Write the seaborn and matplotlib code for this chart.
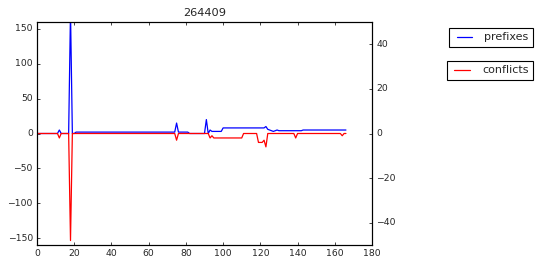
import matplotlib
matplotlib.use("Agg")
import matplotlib.pyplot as plt
import seaborn as sns
import numpy as np

# ---- data ----
x_index = list(range(167))

prefixes = [
    0, 0, 0, 0, 0, 0, 0, 0, 0, 0,          # 0-9
    0, 0, 5, 0, 0, 0, 0, 0, 175, 0,        # 10-19
    0, 2, 2, 2, 2, 2, 2, 2, 2, 2,          # 20-29
    2, 2, 2, 2, 2, 2, 2, 2, 2, 2,          # 30-39
    2, 2, 2, 2, 2, 2, 2, 2, 2, 2,          # 40-49
    2, 2, 2, 2, 2, 2, 2, 2, 2, 2,          # 50-59
    2, 2, 2, 2, 2, 2, 2, 2, 2, 2,          # 60-69
    2, 2, 2, 2, 2, 15, 2, 2, 2, 2,         # 70-79
    2, 2, 0, 0, 0, 0, 0, 0, 0, 0,          # 80-89
    0, 20, 0, 5, 3, 3, 3, 3, 3, 3,         # 90-99
    8, 8, 8, 8, 8, 8, 8, 8, 8, 8,          # 100-109
    8, 8, 8, 8, 8, 8, 8, 8, 8, 8,          # 110-119
    8, 8, 8, 10, 6, 5, 4, 3, 4, 5,         # 120-129
    4, 4, 4, 4, 4, 4, 4, 4, 4, 4,          # 130-139
    4, 4, 4, 5, 5, 5, 5, 5, 5, 5,          # 140-149
    5, 5, 5, 5, 5, 5, 5, 5, 5, 5,          # 150-159
    5, 5, 5, 5, 5, 5, 5,                   # 160-166
]

conflicts = [
    0, 0, 0, 0, 0, 0, 0, 0, 0, 0,          # 0-9
    0, 0, -2, 0, 0, 0, 0, 0, -48, 0,       # 10-19
    0, 0, 0, 0, 0, 0, 0, 0, 0, 0,          # 20-29
    0, 0, 0, 0, 0, 0, 0, 0, 0, 0,          # 30-39
    0, 0, 0, 0, 0, 0, 0, 0, 0, 0,          # 40-49
    0, 0, 0, 0, 0, 0, 0, 0, 0, 0,          # 50-59
    0, 0, 0, 0, 0, 0, 0, 0, 0, 0,          # 60-69
    0, 0, 0, 0, 0, -3, 0, 0, 0, 0,         # 70-79
    0, 0, 0, 0, 0, 0, 0, 0, 0, 0,          # 80-89
    0, 0, 0, -2, -1, -2, -2, -2, -2, -2,   # 90-99
    -2, -2, -2, -2, -2, -2, -2, -2, -2, -2,  # 100-109
    -2, 0, 0, 0, 0, 0, 0, 0, 0, -4,        # 110-119
    -4, -4, -3, -6, 0, 0, 0, 0, 0, 0,      # 120-129
    0, 0, 0, 0, 0, 0, 0, 0, 0, -2,         # 130-139
    0, 0, 0, 0, 0, 0, 0, 0, 0, 0,          # 140-149
    0, 0, 0, 0, 0, 0, 0, 0, 0, 0,          # 150-159
    0, 0, 0, 0, -1, 0, 0,                  # 160-166
]

title_text = "264409"
x_ticks = [0, 20, 40, 60, 80, 100, 120, 140, 160, 180]
left_ticks = [-150, -100, -50, 0, 50, 100, 150]
right_ticks = [-40, -20, 0, 20, 40]

# ---- styling ----
plt.style.use("classic")
sns.set_style("white", {"axes.edgecolor": "black"})
plt.rcParams.update({
    "font.family": ["DejaVu Sans"],
    "figure.facecolor": "white",
    "savefig.facecolor": "white",
    "axes.linewidth": 0.8,
    "xtick.direction": "in",
    "ytick.direction": "in",
    "xtick.major.size": 2.5,
    "ytick.major.size": 2.5,
    "xtick.major.width": 0.6,
    "ytick.major.width": 0.6,
})

fig = plt.figure(figsize=(5.4, 2.66), dpi=100)
ax = fig.add_axes([37 / 540, 21 / 266, (372 - 37) / 540, (245 - 22) / 266])
ax2 = ax.twinx()

sns.lineplot(x=x_index, y=prefixes, ax=ax, color="blue", linewidth=0.9,
             sort=False, estimator=None, legend=False)
sns.lineplot(x=x_index, y=conflicts, ax=ax2, color="red", linewidth=0.9,
             sort=False, estimator=None, legend=False)

ax.set_xlim(0, 180)
ax.set_ylim(-160, 160)
ax2.set_ylim(-50, 50)
ax.set_xticks(x_ticks)
ax.set_yticks(left_ticks)
ax2.set_yticks(right_ticks)
for a in (ax, ax2):
    a.tick_params(labelsize=6.7, direction="in", length=2.5, width=0.6, pad=3)
    a.set_xlabel("")
    a.set_ylabel("")
    for s in a.spines.values():
        s.set_linewidth(0.8)
        s.set_color("black")
ax.tick_params(axis="x", top=True, bottom=True)
ax.grid(False)
ax2.grid(False)

ax.set_title(title_text, fontsize=8.2, pad=4)

h1 = ax.get_lines()[0]
h2 = ax2.get_lines()[0]
leg1 = fig.legend([h1], ["prefixes"], loc="upper right",
                  bbox_to_anchor=(533 / 540, 1 - 28 / 266), borderaxespad=0,
                  fontsize=8, frameon=True, fancybox=False, shadow=False)
leg2 = fig.legend([h2], ["conflicts"], loc="upper right",
                  bbox_to_anchor=(533 / 540, 1 - 61 / 266), borderaxespad=0,
                  fontsize=8, frameon=True, fancybox=False, shadow=False)
for lg in (leg1, leg2):
    fr = lg.get_frame()
    fr.set_edgecolor("black")
    fr.set_linewidth(0.8)
    fr.set_facecolor("white")

fig.savefig("out.png", dpi=100)
